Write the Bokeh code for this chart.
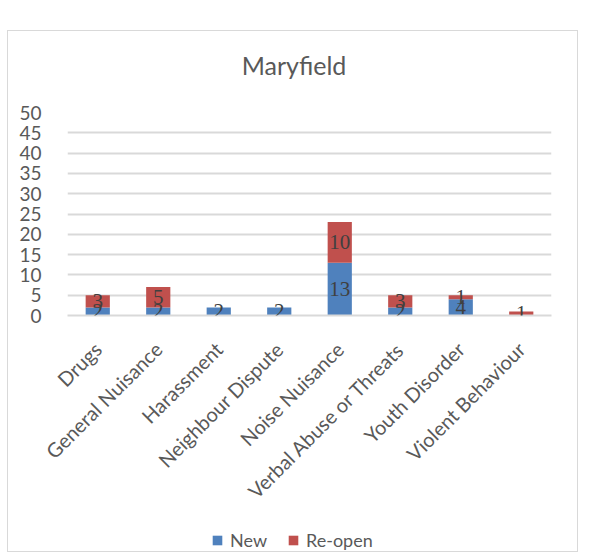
from bokeh.plotting import figure
from bokeh.models import ColumnDataSource, FactorRange, Range1d, LabelSet, Label, Legend, LegendItem, Spacer, SingleIntervalTicker
from bokeh.layouts import column, row
from bokeh.embed import file_html
from bokeh.resources import INLINE
import math

categories = ["Drugs", "General Nuisance", "Harassment", "Neighbour Dispute",
              "Noise Nuisance", "Verbal Abuse or Threats", "Youth Disorder", "Violent Behaviour"]
new = [2, 2, 2, 2, 13, 2, 4, 0]
reopen = [3, 5, 0, 0, 10, 3, 1, 1]
series = ["New", "Re-open"]
colors = ["#4F81BD", "#C0504D"]
title_text = "Maryfield"

FONT = "Lato"
GRAY = "#595959"
BORDER = "1px solid #D9D9D9"
W = 571
FRAME_W = 483  # strips share the main chart's frame width inside the column


def strip(h):
    f = figure(width=W, height=h, output_backend="svg", toolbar_location=None,
               x_range=Range1d(0, FRAME_W), y_range=Range1d(0, h), x_axis_type=None, y_axis_type=None,
               min_border=0, min_border_left=0, min_border_right=0, min_border_top=0, min_border_bottom=0)
    f.grid.visible = False
    f.outline_line_color = None
    return f


# title strip
p0 = strip(60)
p0.add_layout(Label(x=226, y=27, text=title_text, text_align="center", text_baseline="middle",
                    text_font=FONT, text_font_size="25px", text_color=GRAY))
p0.styles = {"border-top": BORDER, "border-left": BORDER, "border-right": BORDER}

# main chart
src = ColumnDataSource(dict(cat=categories, New=new, **{"Re-open": reopen}))

p = figure(x_range=FactorRange(*categories), y_range=Range1d(0, 50),
           width=W, height=435, output_backend="svg", toolbar_location=None,
           min_border_left=59, min_border_right=28, min_border_top=22, min_border_bottom=210)

renderers = p.vbar_stack(series, x="cat", width=0.4, source=src, color=colors, line_color=None)

lab_x, lab_y, lab_t = [], [], []
for c, a, b in zip(categories, new, reopen):
    if a:
        lab_x.append(c); lab_y.append(a / 2); lab_t.append(str(a))
    if b:
        lab_x.append(c); lab_y.append(a + b / 2); lab_t.append(str(b))
lsrc = ColumnDataSource(dict(x=lab_x, y=lab_y, t=lab_t))
p.add_layout(LabelSet(x="x", y="y", text="t", source=lsrc, text_align="center",
                      text_baseline="middle", text_font=FONT, text_font_size="21px",
                      text_color="#404040"))

p.outline_line_color = None
p.xgrid.grid_line_color = None
p.ygrid.grid_line_color = "#D9D9D9"
p.ygrid.grid_line_width = 2

p.yaxis.ticker = SingleIntervalTicker(interval=5)
p.yaxis.axis_line_color = None
p.yaxis.major_tick_line_color = None
p.yaxis.minor_tick_line_color = None
p.yaxis.major_label_text_font = FONT
p.yaxis.major_label_text_font_size = "19px"
p.yaxis.major_label_text_color = GRAY
p.yaxis.major_label_standoff = 20

p.xaxis.axis_line_color = "#D9D9D9"
p.xaxis.axis_line_width = 2
p.xaxis.major_tick_line_color = None
p.xaxis.minor_tick_line_color = None
p.xaxis.major_label_orientation = math.pi / 4
p.xaxis.major_label_text_font = FONT
p.xaxis.major_label_text_font_size = "20px"
p.xaxis.major_label_text_color = GRAY
p.xaxis.major_label_standoff = 24

p.styles = {"border-left": BORDER, "border-right": BORDER}

# legend strip (swatch renderers have zero height, only used for the legend)
p2 = strip(27)
leg_r = [p2.vbar(x=[FRAME_W / 2], top=[0], bottom=[0], width=0.0, color=c, line_color=None) for c in colors]
legend = Legend(items=[LegendItem(label=s, renderers=[r]) for s, r in zip(series, leg_r)],
                orientation="horizontal", location=(144, 1))
legend.border_line_color = None
legend.background_fill_alpha = 0
legend.padding = 0
legend.margin = 0
legend.spacing = 20
legend.label_standoff = 7
legend.glyph_width = 12
legend.glyph_height = 12
legend.label_text_font = FONT
legend.label_text_font_size = "18px"
legend.label_text_color = GRAY
p2.add_layout(legend, "center")
p2.styles = {"border-bottom": BORDER, "border-left": BORDER, "border-right": BORDER}

layout = row(Spacer(width=7, height=10), column(Spacer(height=30, width=W), p0, p, p2))

open("out.html", "w").write(file_html(layout, INLINE))
